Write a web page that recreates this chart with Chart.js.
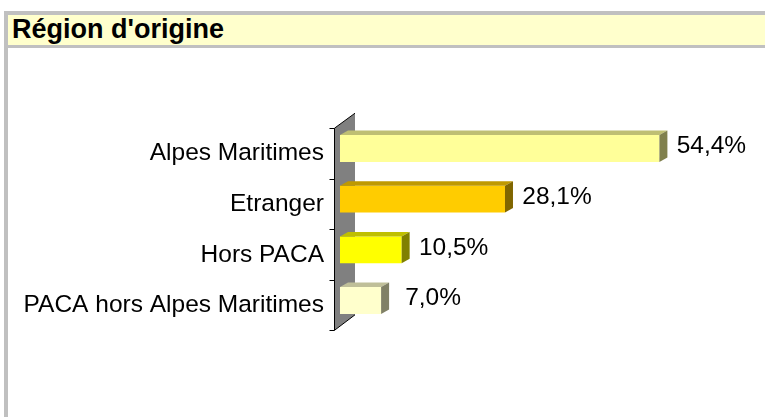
<!DOCTYPE html>
<html>
<head>
<meta charset="utf-8">
<script src="https://cdn.jsdelivr.net/npm/chart.js@4.4.1/dist/chart.umd.min.js"></script>
<style>
  html, body { margin: 0; padding: 0; background: #fff; width: 765px; height: 417px; overflow: hidden; }
  #frame { position: absolute; left: 4px; top: 11px; right: 0; bottom: 0; border-left: 4px solid #c0c0c0; }
  #title {
    height: 30px; line-height: 30px;
    border-top: 4px solid #c0c0c0; border-bottom: 3px solid #c0c0c0;
    background: #ffffcc; padding-left: 4px;
    font: bold 27px "Liberation Sans", Arial, sans-serif; color: #000;
  }
  #title span { position: relative; top: -1px; }
  #chart { display: block; }
</style>
</head>
<body>
<div id="frame">
  <div id="title"><span>Région d'origine</span></div>
  <canvas id="chart" width="757" height="369"></canvas>
</div>
<script>
// data
const categories = ['Alpes Maritimes', 'Etranger', 'Hors PACA', 'PACA hors Alpes Maritimes'];
const shares = [54.4, 28.1, 10.5, 7.0];
const barColors = ['#FFFF99', '#FFCC00', '#FFFF00', '#FFFFCC'];

const FONT = '"Liberation Sans", Arial, sans-serif';

function shade(hex, f) {
  const n = parseInt(hex.slice(1), 16);
  const r = Math.round(((n >> 16) & 255) * f);
  const g = Math.round(((n >> 8) & 255) * f);
  const b = Math.round((n & 255) * f);
  return `rgb(${r},${g},${b})`;
}

// fake 3d: grey wall behind the bars, then top + side faces and value labels
const depthPlugin = {
  id: 'depth',
  beforeDatasetsDraw(chart) {
    const { ctx, chartArea: a } = chart;
    const fx = Math.round(a.left - 6) + 0.5;
    const fTop = a.top + 5, fBot = a.bottom + 4.5;
    const bx = a.left + 15, bTop = a.top - 10, bBot = a.bottom - 11;
    ctx.save();
    ctx.beginPath();
    ctx.moveTo(fx, fTop);
    ctx.lineTo(bx, bTop);
    ctx.lineTo(bx, bBot);
    ctx.lineTo(fx, fBot);
    ctx.closePath();
    ctx.fillStyle = '#808080';
    ctx.fill();
    ctx.strokeStyle = '#000';
    ctx.lineWidth = 1;
    ctx.beginPath();
    ctx.moveTo(bx, bTop);
    ctx.lineTo(fx, fTop);
    ctx.lineTo(fx, fBot);
    ctx.lineTo(bx, bBot);
    ctx.stroke();
    const n = categories.length;
    ctx.beginPath();
    for (let i = 0; i <= n; i++) {
      const y = Math.round(fTop + (fBot - fTop) * i / n) + 0.5;
      ctx.moveTo(fx - 5, y);
      ctx.lineTo(fx, y);
    }
    ctx.stroke();
    ctx.restore();
  },
  afterDatasetsDraw(chart) {
    const { ctx } = chart;
    const ds = chart.data.datasets[0];
    const meta = chart.getDatasetMeta(0);
    const dx = 8, dy = 4.5;
    ctx.save();
    meta.data.forEach((bar, i) => {
      const { x, y, base, height } = bar.getProps(['x', 'y', 'base', 'height'], true);
      const top = y - height / 2, bottom = y + height / 2;
      const col = barColors[i];
      ctx.beginPath();
      ctx.moveTo(base, top);
      ctx.lineTo(base + dx, top - dy);
      ctx.lineTo(x + dx, top - dy);
      ctx.lineTo(x, top);
      ctx.closePath();
      ctx.fillStyle = shade(col, 0.75);
      ctx.fill();
      ctx.beginPath();
      ctx.moveTo(x, top);
      ctx.lineTo(x + dx, top - dy);
      ctx.lineTo(x + dx, bottom - dy);
      ctx.lineTo(x, bottom);
      ctx.closePath();
      ctx.fillStyle = shade(col, 0.5);
      ctx.fill();

      ctx.fillStyle = '#000';
      ctx.font = '24.5px ' + FONT;
      ctx.textAlign = 'center';
      ctx.textBaseline = 'middle';
      ctx.fillText(ds.data[i].toFixed(1).replace('.', ',') + '%', x + 52, y - 2);
    });
    ctx.restore();
  }
};

new Chart(document.getElementById('chart'), {
  type: 'bar',
  data: {
    labels: categories,
    datasets: [{
      data: shares,
      backgroundColor: barColors,
      borderWidth: 0,
      categoryPercentage: 1,
      barPercentage: 0.53
    }]
  },
  options: {
    indexAxis: 'y',
    responsive: false,
    animation: false,
    layout: { padding: { left: 0, right: 14, top: 75.2, bottom: 91.2 } },
    plugins: { legend: { display: false }, tooltip: { enabled: false } },
    scales: {
      x: { display: false, min: 0, max: 70 },
      y: {
        afterFit(scale) { scale.width = 332; },
        grid: { display: false, drawTicks: false },
        border: { display: false },
        ticks: {
          color: '#000',
          padding: 16,
          labelOffset: 5,
          font: { family: FONT, size: 24.5 }
        }
      }
    }
  },
  plugins: [depthPlugin]
});
</script>
</body>
</html>
